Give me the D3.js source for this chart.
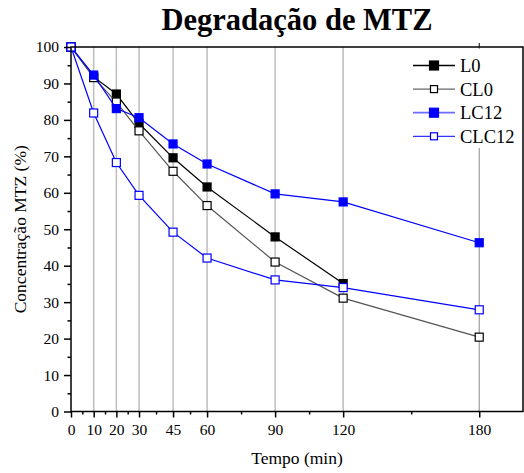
<!DOCTYPE html>
<html>
<head>
<meta charset="utf-8">
<script src="https://cdn.jsdelivr.net/npm/d3@7"></script>
<style>
  html, body { margin: 0; padding: 0; background: #fff; }
  svg text { font-family: "Liberation Serif", "Times New Roman", Times, serif !important; fill: #000; }
</style>
</head>
<body>
<svg id="chart" width="524" height="473"></svg>
<script>
// ---- data ----
const times = [0, 10, 20, 30, 45, 60, 90, 120, 180];
const L0    = [100, 91.8, 87.1, 79.0, 69.6, 61.6, 47.9, 35.1, null];
const CL0   = [100, 91.6, 84.9, 77.0, 65.9, 56.5, 41.0, 31.1, 20.4];
const LC12  = [100, 92.3, 83.1, 80.6, 73.4, 67.9, 59.7, 57.5, 46.3];
const CLC12 = [100, 81.9, 68.3, 59.3, 49.2, 42.1, 36.1, 34.0, 27.9];
const xTickLabels = ["0", "10", "20", "30", "45", "60", "90", "120", "180"];
const xMinorTicks = [5, 15, 25, 37.5, 52.5, 75, 105, 150];
const yTicks = [0, 10, 20, 30, 40, 50, 60, 70, 80, 90, 100];
const yMinorTicks = [5, 15, 25, 35, 45, 55, 65, 75, 85, 95];
const gridTimes = [10, 20, 30, 45, 60, 90, 120];

const seriesDefs = [
  { name: "L0",    values: L0,    color: "#000000", legendColor: "#000000", fill: "#000000" },
  { name: "CL0",   values: CL0,   color: "#555555", legendColor: "#666666", fill: "#ffffff", markStroke: "#000000" },
  { name: "LC12",  values: LC12,  color: "#0000ff", legendColor: "#6b6bff", fill: "#0000ff" },
  { name: "CLC12", values: CLC12, color: "#0000ff", legendColor: "#3333ff", fill: "#ffffff" }
];

(function () {
const FONT = "'Liberation Serif', 'Times New Roman', Times, serif";
// ---- layout ----
const svg = d3.select("#chart");
const pL = 71, pR = 523, pT = 47, pB = 411.5;
const x = d3.scaleLinear().domain([0, 199.3]).range([pL, pR]);
const y = d3.scaleLinear().domain([0, 100]).range([pB, pT]);

// grid lines
svg.append("g").selectAll("line").data(gridTimes).join("line")
  .attr("x1", d => x(d)).attr("x2", d => x(d))
  .attr("y1", pT).attr("y2", pB)
  .attr("stroke", "#bdbdbd").attr("stroke-width", 1.5);
svg.append("line")
  .attr("x1", x(180)).attr("x2", x(180))
  .attr("y1", pT).attr("y2", pB)
  .attr("stroke", "#8a8a8a").attr("stroke-width", 1);

// series
const line = d3.line()
  .defined(d => d.v !== null)
  .x(d => x(d.t)).y(d => y(d.v));
const ms = 8;
seriesDefs.forEach(s => {
  const pts = times.map((t, i) => ({ t, v: s.values[i] }));
  svg.append("path").datum(pts)
    .attr("d", line).attr("fill", "none")
    .attr("stroke", s.color).attr("stroke-width", 1.2);
  svg.append("g").selectAll("rect").data(pts.filter(p => p.v !== null)).join("rect")
    .attr("x", d => x(d.t) - ms / 2).attr("y", d => y(d.v) - ms / 2)
    .attr("width", ms).attr("height", ms)
    .attr("fill", s.fill)
    .attr("stroke", s.markStroke || s.color).attr("stroke-width", 1.2);
});

// legend
const lg = svg.append("g");
lg.append("rect").attr("x", 400).attr("y", 49).attr("width", 121).attr("height", 99).attr("fill", "#fff");
seriesDefs.forEach((s, i) => {
  const cy = 65.5 + i * 23.6;
  lg.append("line").attr("x1", 413).attr("x2", 455).attr("y1", cy).attr("y2", cy)
    .attr("stroke", s.legendColor).attr("stroke-width", i === 2 ? 1.8 : 1.3);
  const m = i % 2 === 0 ? 9 : 7;
  lg.append("rect").attr("x", 434 - m / 2).attr("y", cy - m / 2).attr("width", m).attr("height", m)
    .attr("fill", s.fill).attr("stroke", s.markStroke || s.color).attr("stroke-width", 1.2);
  lg.append("text").attr("x", 460).attr("y", cy + 6.5).attr("font-size", 18.5)
    .style("font-family", FONT).text(s.name);
});

// axes
const xAxis = svg.append("g").attr("transform", `translate(0,${pB})`)
  .call(d3.axisBottom(x).tickValues(times).tickFormat((d, i) => xTickLabels[i]).tickSize(6).tickPadding(6));
xAxis.attr("font-family", FONT);
xAxis.select(".domain").remove();
xAxis.selectAll("line").attr("stroke-width", 1.5);
xAxis.selectAll("text").attr("font-size", 15.5).style("font-family", FONT);
svg.append("g").attr("transform", `translate(0,${pB})`)
  .call(d3.axisBottom(x).tickValues(xMinorTicks).tickSize(3).tickFormat(""))
  .call(g => g.select(".domain").remove())
  .selectAll("line").attr("stroke-width", 1.5);

const yAxis = svg.append("g").attr("transform", `translate(${pL},0)`)
  .call(d3.axisLeft(y).tickValues(yTicks).tickSize(7).tickPadding(5));
yAxis.attr("font-family", FONT);
yAxis.select(".domain").remove();
yAxis.selectAll("line").attr("stroke-width", 1.5);
yAxis.selectAll("text").attr("font-size", 15.5).style("font-family", FONT);
svg.append("g").attr("transform", `translate(${pL},0)`)
  .call(d3.axisLeft(y).tickValues(yMinorTicks).tickSize(3.5).tickFormat(""))
  .call(g => g.select(".domain").remove())
  .selectAll("line").attr("stroke-width", 1.5);

// small top tick at 180
svg.append("line").attr("x1", x(180)).attr("x2", x(180)).attr("y1", pT - 4).attr("y2", pT)
  .attr("stroke", "#000").attr("stroke-width", 1);

// frame
svg.append("rect").attr("x", pL).attr("y", pT).attr("width", pR - pL).attr("height", pB - pT)
  .attr("fill", "none").attr("stroke", "#000").attr("stroke-width", 1.5);

// titles
svg.append("text").attr("x", 297).attr("y", 30).attr("text-anchor", "middle")
  .attr("font-size", 30.5).attr("font-weight", "bold").style("font-family", FONT).text("Degradação de MTZ");
svg.append("text").attr("x", 297).attr("y", 464).attr("text-anchor", "middle")
  .attr("font-size", 17.5).style("font-family", FONT).text("Tempo (min)");
svg.append("text").attr("transform", `translate(26,${(pT + pB) / 2}) rotate(-90)`)
  .attr("text-anchor", "middle").attr("font-size", 17.5).style("font-family", FONT).text("Concentração MTZ (%)");
})();
</script>
</body>
</html>
